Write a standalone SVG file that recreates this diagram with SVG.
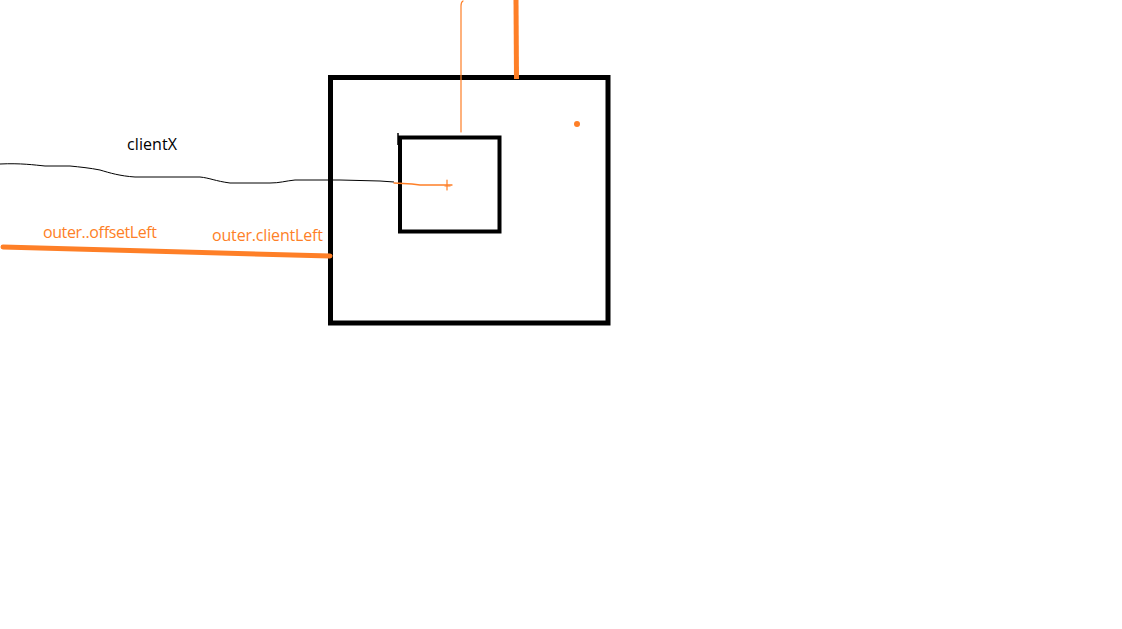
<svg xmlns="http://www.w3.org/2000/svg" width="1122" height="629" viewBox="0 0 1122 629">
<style>
.box{fill:none;stroke:#000;}
.or{fill:none;stroke:#fe7f27;stroke-linecap:round;stroke-linejoin:round;}
.lbl{font-family:"Open Sans","Liberation Sans",sans-serif;font-size:16px;}
</style>
<rect width="1122" height="629" fill="#fff"/>
<g id="outer"><rect class="box" x="330.5" y="77.5" width="277.5" height="245.5" stroke-width="5"/></g>
<g id="inner"><rect class="box" x="400" y="137.5" width="99.5" height="94" stroke-width="4"/></g>
<g id="connectors">
<path d="M0,164 C20,163 35,165 45,166 L70,166 C80,167 90,168 100,170 C110,173 120,176 135,177 L200,177 C210,178 215,181 230,183 L270,183 C280,183 285,181 295,180 L340,180 L380,181 L394,182" fill="none" stroke="#000" stroke-width="1"/>
<path class="or" d="M394,183 L412,184 L420,185 L452,185" stroke-width="1.3"/>
<path class="or" d="M447,180 L447,190 M445,186 L450,186" stroke-width="1.2"/>
<path class="or" d="M461,132 L461,6 Q461,2 463,1" stroke-width="1.2"/>
<path d="M516,0 L516.5,79" fill="none" stroke="#fe7f27" stroke-width="5"/>
<path d="M3,247 L330,256" fill="none" stroke="#fe7f27" stroke-width="5" stroke-linecap="round"/>
<circle cx="577" cy="124" r="3" fill="#fe7f27"/>
<path d="M398,133 L398,145" stroke="#000" stroke-width="1.5" fill="none"/>
</g>
<g id="labels">
<text class="lbl" x="127" y="150" fill="#000" textLength="50">clientX</text>
<text class="lbl" x="43" y="238" fill="#fe7f27" textLength="114">outer..offsetLeft</text>
<text class="lbl" x="212" y="241" fill="#fe7f27" textLength="111">outer.clientLeft</text>
</g>
</svg>
